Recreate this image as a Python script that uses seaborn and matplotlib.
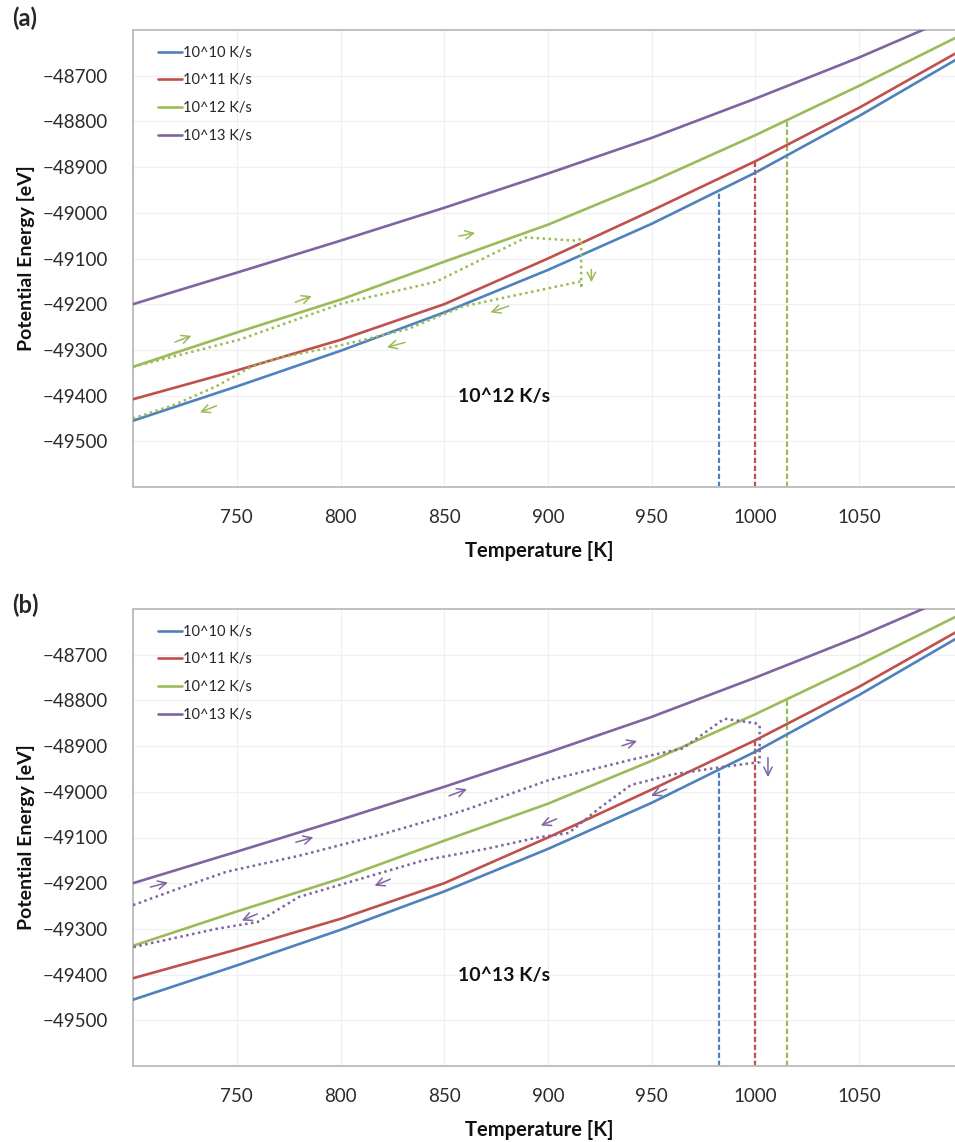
import numpy as np
import pandas as pd
import matplotlib
matplotlib.use("Agg")
import matplotlib.pyplot as plt
import seaborn as sns

# ---------------- data ----------------
T = [700, 750, 800, 850, 900, 950, 1000, 1050, 1100]
E_1e10 = [-49455, -49380, -49302, -49218, -49125, -49024, -48912, -48788, -48656]
E_1e11 = [-49408, -49345, -49278, -49200, -49100, -48995, -48887, -48770, -48642]
E_1e12 = [-49337, -49262, -49190, -49107, -49026, -48932, -48830, -48722, -48609]
E_1e13 = [-49200, -49131, -49061, -48989, -48914, -48836, -48750, -48660, -48562]
series_labels = ["10^10 K/s", "10^11 K/s", "10^12 K/s", "10^13 K/s"]

# glass transition temperatures (dashed verticals) for 10^10, 10^11, 10^12
Tg = [982.5, 1000, 1015]
Eg = [-48954, -48887, -48798]

# hysteresis loop, panel (a), 10^12 K/s
loopA_T = [700, 751, 801, 846, 889.5, 913.6, 916, 916, 916, 890, 859, 832, 800, 770, 757, 740, 720, 700]
loopA_E = [-49337, -49278, -49198, -49151, -49054, -49061, -49057, -49165, -49150,
           -49175, -49205, -49255, -49290, -49318, -49337, -49380, -49420, -49450]

# hysteresis loop, panel (b), 10^13 K/s
loopB_T = [700, 720, 745, 780, 820, 860, 900, 940, 965, 985, 1000, 1002, 1002,
           985, 960, 940, 925, 910, 895, 870, 840, 810, 780, 760, 740, 700]
loopB_E = [-49248, -49215, -49175, -49140, -49093, -49040, -48975, -48930, -48905, -48840, -48850, -48855, -48935,
           -48945, -48962, -48985, -49035, -49090, -49100, -49125, -49150, -49190, -49230, -49285, -49300, -49340]

# direction arrows (start T, start E, end T, end E)
arrowsA = [(719.0, -49285, 729.4, -49267), (776.9, -49198, 787.4, -49180), (855.7, -49052, 866.2, -49043),
           (920.9, -49118, 920.9, -49158), (882.3, -49202, 871.0, -49220), (832.4, -49282, 821.1, -49296),
           (741.5, -49420, 731.0, -49439)]
arrowsB = [(707.1, -49210, 718.1, -49197), (777.2, -49112, 788.2, -49098), (851.1, -49011, 862.2, -48992),
           (934.4, -48901, 944.2, -48887), (1006, -48919, 1006, -48974), (958.4, -48992, 948.4, -49011),
           (905.4, -49057, 895.3, -49076), (825.2, -49189, 815.2, -49208), (761.1, -49265, 751.2, -49284)]

x_ticks = [750, 800, 850, 900, 950, 1000, 1050]
y_ticks = [-49500, -49400, -49300, -49200, -49100, -49000, -48900, -48800, -48700]

# ---------------- style ----------------
sns.set_theme(style="white")
plt.rcParams['font.family'] = ['Lato', 'DejaVu Sans']
colors = ["#4F81BD", "#C0504D", "#9BBB59", "#8064A2"]
frame_col = "#BFBFBF"

df = pd.DataFrame({"T": T * 4,
                   "E": E_1e10 + E_1e11 + E_1e12 + E_1e13,
                   "rate": sum([[l] * len(T) for l in series_labels], [])})

fig = plt.figure(figsize=(9.55, 11.42), dpi=100)
W, H = 955, 1142


def px_axes(left, top, right, bottom):
    return fig.add_axes([left / W, 1 - bottom / H, (right - left) / W, (bottom - top) / H])


axA = px_axes(133, 30, 963, 487)
axB = px_axes(133, 609, 963, 1066)


def draw_panel(ax, loopT, loopE, loop_col, arrows, text):
    sns.lineplot(data=df, x="T", y="E", hue="rate", palette=colors, ax=ax,
                 linewidth=1.9, sort=True, legend=True, estimator=None, zorder=3)
    for tg, eg, c in zip(Tg, Eg, colors[:3]):
        ax.plot([tg, tg], [-49600, eg], color=c, linestyle=(0, (2.4, 1.2)), linewidth=1.6, zorder=2)
    sns.lineplot(x=loopT, y=loopE, sort=False, estimator=None, ax=ax, color=loop_col,
                 linestyle=(0, (1, 1.4)), linewidth=1.8, zorder=4)
    for (x0, y0, x1, y1) in arrows:
        ax.annotate("", xy=(x1, y1), xytext=(x0, y0),
                    arrowprops=dict(arrowstyle="->,head_length=0.5,head_width=0.25",
                                    color=loop_col, lw=1.1), zorder=5)
    ax.text(879, -49401, text, fontsize=14, fontweight="bold", ha="center", va="center", color="#111111")

    ax.set_xlim(700, 1100)
    ax.set_ylim(-49600, -48600)
    ax.set_xticks(x_ticks)
    ax.set_yticks(y_ticks)
    ax.set_xticks(np.arange(700, 1101, 50), minor=True)
    ax.grid(True, which="both", color="#F0F0F0", linewidth=0.9, zorder=0)
    ax.tick_params(axis="both", which="major", direction="in", length=4, color=frame_col,
                   labelsize=13.5, labelcolor="#2b2b2b")
    ax.tick_params(axis="x", pad=16)
    ax.tick_params(axis="y", pad=18)
    ax.tick_params(which="minor", length=0)
    for s in ["left", "bottom", "top"]:
        ax.spines[s].set_visible(True)
        ax.spines[s].set_color(frame_col)
        ax.spines[s].set_linewidth(1.4)
    ax.spines["right"].set_visible(False)
    ax.set_xlabel("Temperature [K]", fontsize=14.5, fontweight="bold", color="#111111")
    ax.set_ylabel("Potential Energy [eV]", fontsize=14, fontweight="bold", color="#111111")
    ax.xaxis.set_label_coords(0.49, -0.118)
    ax.yaxis.set_label_coords(-0.118, 0.5)
    handles, labs = ax.get_legend_handles_labels()
    ax.legend(handles[:4], labs[:4], loc="upper left", bbox_to_anchor=(0.02, 0.985), frameon=False,
              fontsize=10.5, handlelength=1.6, handletextpad=0.1, labelspacing=0.95, borderaxespad=0.2)


draw_panel(axA, loopA_T, loopA_E, colors[2], arrowsA, "10^12 K/s")
draw_panel(axB, loopB_T, loopB_E, colors[3], arrowsB, "10^13 K/s")

fig.text(12 / W, 1 - 18 / H, "(a)", fontsize=17, fontweight="bold", va="center", ha="left")
fig.text(12 / W, 1 - 605 / H, "(b)", fontsize=17, fontweight="bold", va="center", ha="left")

fig.savefig("out.png", dpi=100)
